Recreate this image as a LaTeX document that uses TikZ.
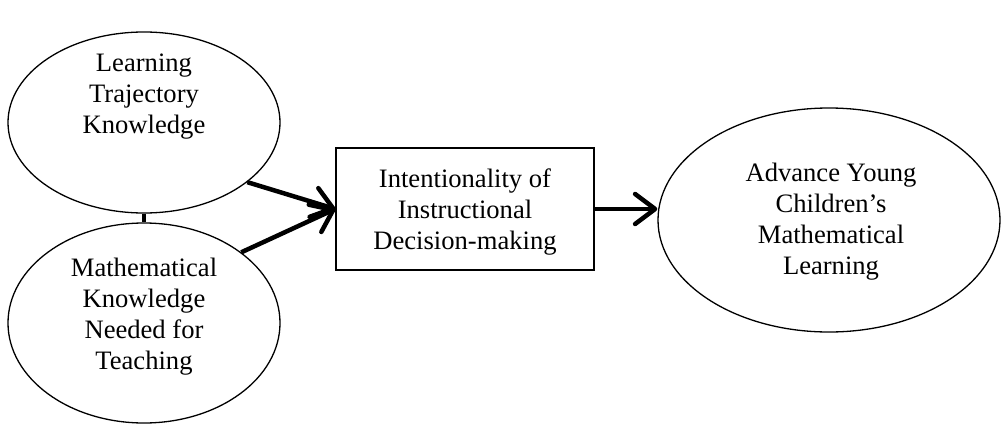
\documentclass[tikz,border=0pt]{standalone}
\usepackage{fontspec}
\setmainfont{Liberation Serif}
\usetikzlibrary{shapes.geometric,arrows.meta}
\tikzset{
  oval/.style={draw, ellipse, line width=1.3pt, inner sep=0pt},
  boxnode/.style={draw, rectangle, line width=1.5pt, inner sep=0pt},
  txt/.style={align=center, font=\fontsize{26.6}{31}\selectfont, inner sep=0pt},
  flow/.style={line width=4.5pt, -{Straight Barb[length=20pt,width=30pt,line cap=round,line join=round]}},
  link/.style={line width=3.5pt}
}
\begin{document}
\begin{tikzpicture}[x=1pt,y=-1pt]
\useasboundingbox (0,0) rectangle (1001,431);
\node[oval, minimum width=272pt, minimum height=181pt] (lt) at (144,122.5) {};
\node[txt] (lttext) at (144,97) {Learning\\Trajectory\\Knowledge};
\node[oval, minimum width=272pt, minimum height=200pt] (mk) at (144,323) {};
\node[txt] (mktext) at (144,317) {Mathematical\\Knowledge\\Needed for\\Teaching};
\node[boxnode, minimum width=258pt, minimum height=122pt] (dm) at (465,209) {};
\node[txt] (dmtext) at (465,212) {Intentionality of\\Instructional\\Decision-making};
\node[oval, minimum width=342pt, minimum height=224pt] (adv) at (829,220) {};
\node[txt] (advtext) at (831,222) {Advance Young\\Children’s\\Mathematical\\Learning};
\draw[link] (lt.south) -- (mk.north);
\draw[flow] (lt.-30.7) -- (dm.west);
\draw[flow] (mk.36) -- (dm.west);
\draw[flow] (dm.east) -- (dm.east -| adv.west);
\end{tikzpicture}
\end{document}
